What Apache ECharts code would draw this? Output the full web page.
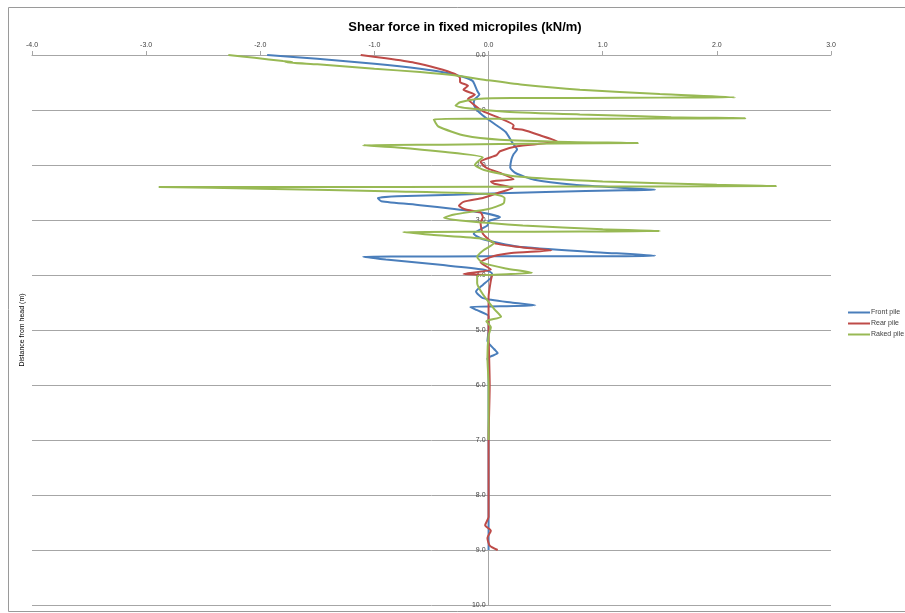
<!DOCTYPE html>
<html>
<head>
<meta charset="utf-8">
<script src="https://cdn.jsdelivr.net/npm/echarts@6/dist/echarts.min.js"></script>
<style>html,body{margin:0;padding:0;background:#fff;}#c{width:905px;height:613px;}</style>
</head>
<body>
<div id="c"></div>
<script>
var titleText = 'Shear force in fixed micropiles (kN/m)';
var yAxisName = 'Distance from head (m)';
var seriesNames = ['Front pile', 'Rear pile', 'Raked pile'];
var xTicks = [-4, -3, -2, -1, 0, 1, 2, 3];
var yTicks = [0, 1, 2, 3, 4, 5, 6, 7, 8, 9, 10];

var frontX = [-1.94,-1.50,-1.00,-0.60,-0.35,-0.22,-0.14,-0.12,-0.10,-0.08,-0.12,-0.13,-0.11,-0.05,0.05,0.15,0.21,0.25,0.22,0.20,0.19,0.24,0.40,0.75,1.20,1.46,1.20,0.50,-0.30,-0.80,-0.97,-0.94,-0.60,-0.30,-0.05,0.10,0.00,-0.01,-0.13,-0.05,0.25,0.90,1.46,1.00,0.00,-0.80,-1.10,-0.90,-0.40,-0.05,0.03,0.02,-0.05,-0.11,-0.05,0.20,0.41,0.10,-0.16,-0.10,0.00,0.00,-0.01,0.05,0.08,0.02,-0.01,0.00,0.00];
var frontY = [0.00,0.07,0.16,0.25,0.33,0.40,0.47,0.55,0.65,0.72,0.80,0.88,0.98,1.10,1.25,1.40,1.60,1.72,1.80,1.90,2.05,2.15,2.27,2.36,2.42,2.45,2.46,2.49,2.54,2.57,2.60,2.66,2.73,2.80,2.87,2.95,3.02,3.10,3.25,3.35,3.48,3.58,3.65,3.66,3.66,3.665,3.67,3.72,3.82,3.90,3.97,4.05,4.18,4.30,4.42,4.50,4.55,4.57,4.58,4.64,4.75,5.00,5.20,5.35,5.42,5.48,5.52,5.60,9.00];

var rearX = [-1.12,-0.90,-0.65,-0.45,-0.30,-0.25,-0.25,-0.18,-0.22,-0.12,-0.18,-0.13,-0.05,0.10,0.22,0.21,0.30,0.45,0.60,0.25,0.10,0.07,-0.07,-0.02,0.12,0.22,0.02,0.05,0.21,0.08,-0.05,-0.22,-0.26,-0.20,-0.07,-0.05,-0.07,-0.05,0.05,0.30,0.55,0.20,0.04,-0.07,0.02,-0.22,0.03,0.02,0.00,0.00,0.01,0.00,0.00,-0.03,0.02,-0.01,0.01,0.08];
var rearY = [0.00,0.06,0.14,0.24,0.34,0.42,0.49,0.56,0.63,0.72,0.80,0.90,1.02,1.15,1.28,1.33,1.36,1.46,1.57,1.66,1.75,1.82,1.94,2.05,2.16,2.26,2.30,2.34,2.42,2.51,2.60,2.67,2.74,2.81,2.86,2.95,3.05,3.25,3.42,3.50,3.55,3.60,3.66,3.77,3.90,3.98,4.01,4.10,4.40,5.00,6.00,7.00,8.40,8.55,8.65,8.78,8.92,9.00];

var rakedX = [-2.28,-2.05,-1.80,-1.72,-1.78,-1.50,-1.00,-0.60,-0.30,0.00,0.30,0.80,1.50,2.16,1.50,0.80,0.20,-0.10,-0.25,-0.29,-0.18,0.15,0.80,1.60,2.25,1.50,0.60,-0.20,-0.48,-0.44,-0.20,0.10,0.70,1.31,0.60,-0.40,-1.10,-0.80,-0.40,-0.05,-0.09,-0.12,-0.04,0.25,1.00,2.00,2.52,1.50,0.00,-1.50,-2.89,-2.00,-0.80,0.05,0.14,0.13,0.00,-0.30,-0.39,-0.20,0.30,1.00,1.50,0.80,0.00,-0.75,-0.50,-0.05,0.05,-0.05,-0.10,-0.05,0.15,0.38,0.10,-0.10,-0.10,-0.05,0.05,0.11,-0.02,0.02,0.00,-0.01,0.00,0.00];
var rakedY = [0.00,0.05,0.11,0.125,0.13,0.17,0.25,0.31,0.37,0.46,0.54,0.63,0.71,0.77,0.775,0.78,0.78,0.80,0.86,0.92,0.97,1.03,1.08,1.13,1.15,1.155,1.16,1.16,1.17,1.30,1.47,1.54,1.58,1.60,1.61,1.63,1.64,1.68,1.76,1.86,1.93,2.00,2.09,2.21,2.30,2.36,2.38,2.39,2.395,2.40,2.40,2.43,2.48,2.53,2.60,2.70,2.80,2.90,2.96,3.02,3.10,3.17,3.20,3.21,3.215,3.22,3.27,3.34,3.42,3.56,3.67,3.78,3.88,3.96,3.99,4.02,4.15,4.35,4.62,4.76,4.84,4.95,5.10,5.50,6.00,7.00];

var colors = ['#4a7ebb', '#be4b48', '#98b954'];

function pairs(xs, ys) {
  var out = [];
  for (var i = 0; i < xs.length; i++) out.push([xs[i], ys[i]]);
  return out;
}
var dataSets = [pairs(frontX, frontY), pairs(rearX, rearY), pairs(rakedX, rakedY)];

var gridLeft = 32, gridRight = 74, chartW = 905;
var plotW = chartW - gridLeft - gridRight;
var zeroOffset = -plotW * (0 - xTicks[0]) / (xTicks[xTicks.length - 1] - xTicks[0]);

var chart = echarts.init(document.getElementById('c'));
var series = seriesNames.map(function (n, i) {
  return {
    name: n,
    type: 'line',
    data: dataSets[i],
    showSymbol: false,
    symbol: 'none',
    smooth: 0.2,
    lineStyle: { width: 2, color: colors[i] },
    itemStyle: { color: colors[i] },
    z: 2 + i
  };
});

chart.setOption({
  animation: false,
  backgroundColor: '#ffffff',
  title: {
    text: titleText,
    left: 460,
    textAlign: 'center',
    top: 16,
    textStyle: { fontFamily: 'Liberation Sans Narrow, Liberation Sans, sans-serif', fontSize: 13, fontWeight: 'bold', color: '#000' }
  },
  legend: {
    orient: 'vertical',
    left: 843,
    top: 304,
    itemGap: 4,
    itemWidth: 22,
    itemHeight: 2,
    icon: 'rect',
    textStyle: { fontSize: 7, color: '#404040', fontFamily: 'Liberation Sans, sans-serif', padding: [0, 0, 0, -4] },
    data: seriesNames
  },
  grid: { left: gridLeft, right: gridRight, top: 55, bottom: 8, containLabel: false },
  xAxis: {
    type: 'value',
    position: 'top',
    min: xTicks[0],
    max: xTicks[xTicks.length - 1],
    interval: 1,
    axisLine: { onZero: false, lineStyle: { color: '#a6a6a6', width: 1 } },
    axisTick: { show: true, length: 4, lineStyle: { color: '#a6a6a6' } },
    axisLabel: { fontSize: 7, color: '#404040', margin: 6, fontFamily: 'Liberation Sans, sans-serif',
      formatter: function (v) { return v.toFixed(1); } },
    splitLine: { show: false }
  },
  yAxis: {
    type: 'value',
    position: 'left',
    offset: zeroOffset,
    inverse: true,
    min: yTicks[0],
    max: yTicks[yTicks.length - 1],
    interval: 1,
    axisLine: { onZero: false, lineStyle: { color: '#a6a6a6', width: 1 } },
    axisTick: { show: true, length: 3, lineStyle: { color: '#a6a6a6' } },
    axisLabel: { fontSize: 7, color: '#404040', margin: 3, fontFamily: 'Liberation Sans, sans-serif',
      formatter: function (v) { return v.toFixed(1); } },
    splitLine: { show: true, lineStyle: { color: '#a6a6a6', width: 1 } }
  },
  graphic: [
    { type: 'rect', shape: { x: 8.5, y: 7.5, width: 1000, height: 604 }, style: { fill: 'none', stroke: '#9a9a9a', lineWidth: 1 }, silent: true, z: -1 },
    { type: 'text', x: 22, y: 330, rotation: Math.PI / 2,
      style: { text: yAxisName, fontSize: 7, fill: '#000', align: 'center', verticalAlign: 'middle', fontFamily: 'Liberation Sans, sans-serif' } }
  ],
  series: series
});
</script>
</body>
</html>
